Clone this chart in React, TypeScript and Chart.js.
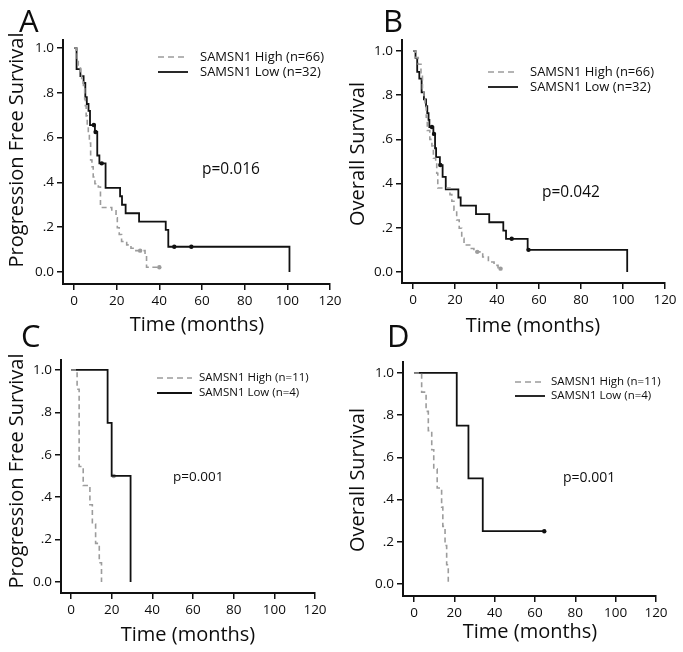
import React, { useEffect, useRef } from 'react';
import { Chart, registerables } from 'chart.js';

Chart.register(...registerables);

type Pt = [number, number];

// ---- shared axis data ----
const monthTicks = [0, 20, 40, 60, 80, 100, 120];
const survTicks = [0, 0.2, 0.4, 0.6, 0.8, 1.0];
const survTickLabels = ['0.0', '.2', '.4', '.6', '.8', '1.0'];

// ---- Panel A: Progression free survival (n=66 / n=32) ----
const highA: Pt[] = [[0, 1], [1, 0.985], [1.5, 0.955], [2, 0.924], [3, 0.894], [3.6, 0.864], [4.4, 0.818], [5, 0.773], [5.3, 0.742], [5.7, 0.697], [6.2, 0.652], [6.7, 0.621], [7.2, 0.576], [7.8, 0.5], [8.4, 0.47], [9, 0.424], [9.8, 0.394], [11.4, 0.379], [12.4, 0.288], [17.7, 0.273], [19.7, 0.242], [20.3, 0.197], [21.2, 0.167], [22.3, 0.136], [24.7, 0.121], [26.7, 0.106], [29, 0.095], [33.3, 0.076], [34, 0.021], [40, 0.021]];
const lowA: Pt[] = [[0, 1], [1.2, 0.906], [3, 0.875], [4.5, 0.844], [5.3, 0.781], [6, 0.75], [6.8, 0.719], [7.5, 0.656], [9.8, 0.625], [10.9, 0.52], [11.9, 0.485], [14.8, 0.375], [21.6, 0.338], [22.5, 0.3], [24.2, 0.262], [30.5, 0.225], [43, 0.1875], [44.2, 0.1125], [101, 0]];
const censorHighA: Pt[] = [[31, 0.095], [40, 0.021]];
const censorLowA: Pt[] = [[9.3, 0.656], [10.1, 0.625], [13, 0.485], [47, 0.1125], [55, 0.1125]];

// ---- Panel B: Overall survival (n=66 / n=32) ----
const highB: Pt[] = [[0, 1], [1.4, 0.97], [2.5, 0.94], [3.8, 0.89], [4.5, 0.83], [5.2, 0.79], [5.7, 0.75], [6.3, 0.7], [6.8, 0.64], [8, 0.6], [9, 0.57], [9.7, 0.515], [10.8, 0.5], [11.3, 0.447], [11.8, 0.38], [17.6, 0.35], [18.5, 0.32], [19.5, 0.28], [20.8, 0.235], [22, 0.198], [23.2, 0.152], [24.3, 0.122], [27, 0.106], [29, 0.091], [33.2, 0.068], [35.9, 0.045], [38.6, 0.03], [40.5, 0.015], [41.7, 0.015]];
const lowB: Pt[] = [[0, 1], [1.2, 0.969], [2, 0.906], [3, 0.875], [4.1, 0.813], [5.2, 0.781], [6.2, 0.75], [6.8, 0.719], [7.4, 0.688], [7.8, 0.656], [9.7, 0.625], [10.5, 0.56], [11, 0.52], [12.8, 0.484], [14.1, 0.43], [15.6, 0.374], [21.6, 0.337], [22.7, 0.3], [30, 0.262], [36.3, 0.225], [43, 0.187], [44.3, 0.15], [54.6, 0.1], [102, 0]];
const censorHighB: Pt[] = [[30.6, 0.091], [41.7, 0.015]];
const censorLowB: Pt[] = [[9, 0.656], [10, 0.625], [13, 0.484], [47, 0.15], [55, 0.1]];

// ---- Panel C: Progression free survival (n=11 / n=4) ----
const highC: Pt[] = [[0, 1], [3, 0.909], [4, 0.545], [6, 0.455], [9.3, 0.364], [10.5, 0.273], [12.1, 0.182], [13.9, 0.091], [15, 0]];
const lowC: Pt[] = [[0, 1], [18, 0.75], [20, 0.5], [29.3, 0]];
const censorHighC: Pt[] = [];
const censorLowC: Pt[] = [[21, 0.5]];

// ---- Panel D: Overall survival (n=11 / n=4) ----
const highD: Pt[] = [[0, 1], [3.8, 0.909], [6, 0.818], [7.1, 0.727], [8.8, 0.636], [9.8, 0.545], [11.5, 0.455], [13.7, 0.364], [14.3, 0.273], [15.4, 0.182], [16.2, 0.091], [17, 0]];
const lowD: Pt[] = [[0, 1], [21.2, 0.75], [27, 0.5], [34.1, 0.25], [64.6, 0.25]];
const censorHighD: Pt[] = [];
const censorLowD: Pt[] = [[64.6, 0.25]];

const FONT = '"Open Sans", "DejaVu Sans", sans-serif';
const TEXT = '#0d0d0d';
const GRAY = '#9c9c9c';
const BLACK = '#111111';

type PanelCfg = {
  letter: string;
  yTitle: string;
  pText: string;
  highLabel: string;
  lowLabel: string;
  high: Pt[];
  low: Pt[];
  censorHigh: Pt[];
  censorLow: Pt[];
  censorLowColor: string;
  // layout
  left: number; top: number; w: number; h: number;
  area: { l: number; r: number; t: number; b: number };
  xMin: number; yMin: number; yMax: number;
  letterPos: [number, number];
  yTitlePos: [number, number];
  xTitlePos: [number, number];
  legend: { x1: number; x2: number; tx: number; y1: number; y2: number; size: number };
  pPos: [number, number, number];
};

const panels: PanelCfg[] = [
  {
    letter: 'A', yTitle: 'Progression Free Survival', pText: 'p=0.016',
    highLabel: 'SAMSN1 High (n=66)', lowLabel: 'SAMSN1 Low (n=32)',
    high: highA, low: lowA, censorHigh: censorHighA, censorLow: censorLowA, censorLowColor: BLACK,
    left: 0, top: 0, w: 350, h: 340,
    area: { l: 63, r: 330, t: 40, b: 284 },
    xMin: -5.16, yMin: -0.054, yMax: 1.036,
    letterPos: [19, 32], yTitlePos: [17, 150], xTitlePos: [197, 325],
    legend: { x1: 158, x2: 188, tx: 200, y1: 57, y2: 72, size: 13 },
    pPos: [202, 170, 15.5],
  },
  {
    letter: 'B', yTitle: 'Overall Survival', pText: 'p=0.042',
    highLabel: 'SAMSN1 High (n=66)', lowLabel: 'SAMSN1 Low (n=32)',
    high: highB, low: lowB, censorHigh: censorHighB, censorLow: censorLowB, censorLowColor: BLACK,
    left: 341, top: 0, w: 342, h: 340,
    area: { l: 61, r: 324, t: 40, b: 283 },
    xMin: -5.24, yMin: -0.05, yMax: 1.05,
    letterPos: [42, 32], yTitlePos: [17, 154], xTitlePos: [192, 326],
    legend: { x1: 147, x2: 177, tx: 189, y1: 72, y2: 87, size: 13 },
    pPos: [201, 193, 15.5],
  },
  {
    letter: 'C', yTitle: 'Progression Free Survival', pText: 'p=0.001',
    highLabel: 'SAMSN1 High (n=11)', lowLabel: 'SAMSN1 Low (n=4)',
    high: highC, low: lowC, censorHigh: censorHighC, censorLow: censorLowC, censorLowColor: GRAY,
    left: 0, top: 320, w: 341, h: 332,
    area: { l: 61, r: 315, t: 40, b: 273 },
    xMin: -4.92, yMin: -0.052, yMax: 1.047,
    letterPos: [21, 27], yTitlePos: [17, 151], xTitlePos: [188, 315],
    legend: { x1: 157, x2: 192, tx: 199, y1: 58, y2: 73, size: 11.5 },
    pPos: [173, 157, 13.5],
  },
  {
    letter: 'D', yTitle: 'Overall Survival', pText: 'p=0.001',
    highLabel: 'SAMSN1 High (n=11)', lowLabel: 'SAMSN1 Low (n=4)',
    high: highD, low: lowD, censorHigh: censorHighD, censorLow: censorLowD, censorLowColor: BLACK,
    left: 341, top: 320, w: 342, h: 332,
    area: { l: 62, r: 315, t: 42, b: 276 },
    xMin: -5.45, yMin: -0.057, yMax: 1.052,
    letterPos: [46, 27], yTitlePos: [17, 160], xTitlePos: [189, 312],
    legend: { x1: 174, x2: 204, tx: 210, y1: 62, y2: 76, size: 11.5 },
    pPos: [222, 158, 14],
  },
];

const toXY = (pts: Pt[]) => pts.map(([x, y]) => ({ x, y }));

function KMPanel({ cfg }: { cfg: PanelCfg }) {
  const ref = useRef<HTMLCanvasElement>(null);
  useEffect(() => {
    const canvas = ref.current;
    if (!canvas) return;
    const a = cfg.area;
    const textPlugin = {
      id: 'kmText',
      afterDraw(chart: any) {
        const ctx = chart.ctx as CanvasRenderingContext2D;
        ctx.save();
        ctx.fillStyle = TEXT;
        // panel letter
        ctx.font = `31px ${FONT}`;
        ctx.textAlign = 'left';
        ctx.textBaseline = 'alphabetic';
        ctx.fillText(cfg.letter, cfg.letterPos[0], cfg.letterPos[1]);
        // y title
        ctx.save();
        ctx.translate(cfg.yTitlePos[0], cfg.yTitlePos[1]);
        ctx.rotate(-Math.PI / 2);
        ctx.font = `20px ${FONT}`;
        ctx.textAlign = 'center';
        ctx.textBaseline = 'middle';
        ctx.fillText(cfg.yTitle, 0, 0);
        ctx.restore();
        // x title
        ctx.font = `20px ${FONT}`;
        ctx.textAlign = 'center';
        ctx.textBaseline = 'middle';
        ctx.fillText('Time (months)', cfg.xTitlePos[0], cfg.xTitlePos[1]);
        // legend
        const L = cfg.legend;
        ctx.lineWidth = 1.6;
        ctx.strokeStyle = GRAY;
        ctx.setLineDash([6, 4]);
        ctx.beginPath();
        ctx.moveTo(L.x1, L.y1);
        ctx.lineTo(L.x2, L.y1);
        ctx.stroke();
        ctx.setLineDash([]);
        ctx.strokeStyle = BLACK;
        ctx.lineWidth = 1.8;
        ctx.beginPath();
        ctx.moveTo(L.x1, L.y2);
        ctx.lineTo(L.x2, L.y2);
        ctx.stroke();
        ctx.font = `${L.size}px ${FONT}`;
        ctx.textAlign = 'left';
        ctx.textBaseline = 'middle';
        ctx.fillText(cfg.highLabel, L.tx, L.y1);
        ctx.fillText(cfg.lowLabel, L.tx, L.y2);
        // p value
        ctx.font = `${cfg.pPos[2]}px ${FONT}`;
        ctx.fillText(cfg.pText, cfg.pPos[0], cfg.pPos[1]);
        ctx.restore();
      },
    };

    const chart = new Chart(canvas, {
      type: 'line',
      data: {
        datasets: [
          {
            label: cfg.highLabel,
            data: toXY(cfg.high),
            stepped: 'before',
            borderColor: GRAY,
            borderWidth: 1.6,
            borderDash: [5, 3.5],
            pointRadius: 0,
            fill: false,
          },
          {
            label: cfg.lowLabel,
            data: toXY(cfg.low),
            stepped: 'before',
            borderColor: BLACK,
            borderWidth: 1.8,
            pointRadius: 0,
            fill: false,
          },
          {
            label: 'censored high',
            data: toXY(cfg.censorHigh),
            showLine: false,
            pointRadius: 2.2,
            pointBackgroundColor: GRAY,
            pointBorderColor: GRAY,
            pointBorderWidth: 0,
          },
          {
            label: 'censored low',
            data: toXY(cfg.censorLow),
            showLine: false,
            pointRadius: 2.2,
            pointBackgroundColor: cfg.censorLowColor,
            pointBorderColor: cfg.censorLowColor,
            pointBorderWidth: 0,
          },
        ],
      } as any,
      options: {
        responsive: false,
        animation: false,
        devicePixelRatio: 1,
        layout: { padding: { left: 0, top: a.t, right: cfg.w - a.r, bottom: 0 } },
        plugins: { legend: { display: false }, tooltip: { enabled: false }, title: { display: false } },
        scales: {
          x: {
            type: 'linear',
            min: cfg.xMin,
            max: 120,
            afterBuildTicks: (s: any) => { s.ticks = monthTicks.map((v) => ({ value: v })); },
            afterFit: (s: any) => { s.height = cfg.h - a.b; },
            grid: { drawOnChartArea: false, drawTicks: true, tickLength: 6, color: BLACK, lineWidth: 1.5 },
            border: { display: true, color: BLACK, width: 2 },
            ticks: {
              color: TEXT, font: { family: FONT, size: 13.5 }, padding: 3,
              maxRotation: 0, autoSkip: false,
              callback: (v: any) => String(v),
            },
          },
          y: {
            type: 'linear',
            min: cfg.yMin,
            max: cfg.yMax,
            afterBuildTicks: (s: any) => { s.ticks = survTicks.map((v) => ({ value: v })); },
            afterFit: (s: any) => { s.width = a.l; },
            grid: { drawOnChartArea: false, drawTicks: true, tickLength: 6, color: BLACK, lineWidth: 1.5 },
            border: { display: true, color: BLACK, width: 2 },
            ticks: {
              color: TEXT, font: { family: FONT, size: 13.5 }, padding: 3, autoSkip: false,
              callback: (v: any) => {
                const i = survTicks.findIndex((t) => Math.abs(t - Number(v)) < 1e-6);
                return i >= 0 ? survTickLabels[i] : '';
              },
            },
          },
        },
      } as any,
      plugins: [textPlugin],
    });
    return () => chart.destroy();
  }, [cfg]);

  return (
    <canvas
      ref={ref}
      width={cfg.w}
      height={cfg.h}
      style={{ position: 'absolute', left: cfg.left, top: cfg.top, width: cfg.w, height: cfg.h }}
    />
  );
}

export default function App() {
  return (
    <div style={{ position: 'absolute', left: 0, top: 0, width: 683, height: 652, background: '#ffffff', overflow: 'hidden' }}>
      {panels.map((p) => (
        <KMPanel key={p.letter} cfg={p} />
      ))}
    </div>
  );
}
